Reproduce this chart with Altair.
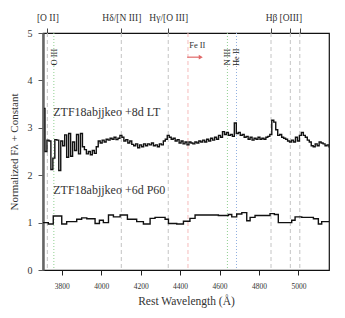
import altair as alt
import pandas as pd

FONT = "Liberation Serif"

# LT spectrum (+8d), 10 A bins, centres from 3710 A
lt_start = 3710
lt_step = 10
lt_flux = [
    3.41, 2.50, 2.74, 2.72, 2.12, 2.36, 2.75, 2.74, 2.10, 2.72,
    2.62, 2.85, 2.38, 2.88, 2.40, 2.70, 2.52, 2.86, 2.45, 2.88,
    2.60, 2.54, 2.45, 2.50, 2.43, 2.52, 2.46, 2.60, 2.72, 2.68,
    2.74, 2.70, 2.76, 2.74, 2.78, 2.76, 2.80, 2.75, 2.78, 2.84,
    2.80, 2.72, 2.75, 2.68, 2.72, 2.65, 2.62, 2.66, 2.58, 2.64,
    2.60, 2.66, 2.62, 2.66, 2.64, 2.68, 2.62, 2.64, 2.60, 2.66,
    2.64, 2.72, 2.76, 2.84, 2.80, 2.76, 2.78, 2.72, 2.75, 2.68,
    2.72, 2.66, 2.70, 2.64, 2.70, 2.68, 2.66, 2.70, 2.68, 2.72,
    2.70, 2.74, 2.70, 2.76, 2.72, 2.78, 2.74, 2.80, 2.76, 2.84,
    2.80, 2.92, 2.86, 2.90, 2.84, 2.86, 2.82, 3.10, 2.88, 2.90,
    2.84, 2.86, 2.80, 2.82, 2.76, 2.80, 2.74, 2.78, 2.76, 2.80,
    2.76, 2.78, 2.76, 2.80, 2.82, 2.86, 3.16, 3.12, 2.96, 2.84,
    2.86, 2.80, 2.78, 2.76, 2.72, 2.70, 2.74, 2.70, 2.80, 2.72,
    2.84, 2.90, 2.84, 2.80, 2.74, 2.70, 2.62, 2.60, 2.66, 2.62,
    2.70, 2.68, 2.66, 2.62, 2.64, 2.60,
]
lt_wave = [lt_start + lt_step * i for i in range(len(lt_flux))]

# P60 spectrum (+6d), bin start wavelengths and flux
p60_wave = [3705, 3732, 3757, 3800, 3825, 3876, 3901, 3927, 3969, 3991,
            4011, 4037, 4062, 4096, 4133, 4180, 4214, 4248, 4273, 4324,
            4341, 4383, 4417, 4450, 4476, 4594, 4645, 4662, 4687, 4713,
            4738, 4755, 4780, 4856, 4878, 4898, 4966, 4983, 5017, 5076,
            5101, 5118, 5155]
p60_flux = [1.00, 0.97, 1.14, 0.97, 1.02, 1.07, 1.10, 1.08, 0.98, 1.05,
            1.00, 1.16, 1.12, 1.16, 1.07, 1.02, 0.97, 1.09, 1.11, 1.07,
            0.98, 0.97, 1.03, 1.09, 1.16, 1.15, 1.17, 1.12, 1.18, 1.21,
            1.04, 1.11, 1.15, 1.19, 1.17, 1.00, 1.05, 1.12, 1.11, 1.08,
            0.97, 1.02, 1.02]

# line markers
gray_lines = [3727, 4102, 4340, 4861, 4959, 5007]
top_labels = ["[O II]", "Hδ/[N III]", "Hγ/[O III]", "Hβ", "[OIII]", ""]
green_lines = [3760, 4640]
blue_lines = [4686]
pink_lines = [4440]

vert_text = ["O III", "N III", "He II"]
vert_text_x = [3760, 4640, 4686]
vert_text_y = [4.49, 4.49, 4.49]

spec_labels = ["ZTF18abjjkeo +8d LT", "ZTF18abjjkeo +6d P60"]
spec_label_x = [3757, 3757]
spec_label_y = [3.33, 1.69]

feii_label = "Fe II"
feii_text_x = 4446
feii_text_y = 4.74
feii_arrow_x = [4436, 4505]
feii_arrow_y = 4.49

X_DOMAIN = [3705, 5155]
xs = alt.Scale(domain=X_DOMAIN, nice=False, zero=False)
ys = alt.Scale(domain=[0, 5], nice=False)

label_expr = " : ".join(
    f"datum.value == {v} ? '{l}'" for v, l in zip(gray_lines, top_labels)
) + " : ''"

gray_df = pd.DataFrame({"w": gray_lines})
gray = alt.Chart(gray_df).mark_rule(color="#c4c4c4", strokeDash=[4, 3], strokeWidth=1).encode(
    x=alt.X("w:Q", scale=xs, axis=alt.Axis(
        orient="top", values=gray_lines, labelExpr=label_expr, title=None,
        grid=False, domain=False, ticks=True, tickSize=5, tickColor="#444",
        labelFont=FONT, labelFontSize=9.5, labelColor="#333", labelPadding=6,
        labelOverlap=False, labelFlush=False)),
)

green = alt.Chart(pd.DataFrame({"w": green_lines})).mark_rule(
    color="#8fd08f", strokeDash=[1, 2], strokeWidth=1).encode(
    x=alt.X("w:Q", scale=xs, axis=None))
blue = alt.Chart(pd.DataFrame({"w": blue_lines})).mark_rule(
    color="#90b0e0", strokeDash=[1, 2], strokeWidth=1).encode(
    x=alt.X("w:Q", scale=xs, axis=None))
pink = alt.Chart(pd.DataFrame({"w": pink_lines})).mark_rule(
    color="#f6bcbc", strokeDash=[4, 3], strokeWidth=1).encode(
    x=alt.X("w:Q", scale=xs, axis=None))

lt_df = pd.DataFrame({"w": lt_wave, "f": lt_flux})
lt = alt.Chart(lt_df).mark_line(interpolate="step", color="#111", strokeWidth=1.4,
                                clip=True).encode(
    x=alt.X("w:Q", scale=xs, axis=None),
    y=alt.Y("f:Q", scale=ys, axis=None),
)

p60_df = pd.DataFrame({"w": p60_wave, "f": p60_flux})
p60 = alt.Chart(p60_df).mark_line(interpolate="step-after", color="#111", strokeWidth=1.4).encode(
    x=alt.X("w:Q", scale=xs, axis=alt.Axis(
        values=[3800, 4000, 4200, 4400, 4600, 4800, 5000], format="d",
        title="Rest Wavelength (Å)", grid=False, domain=False, tickSize=5,
        tickColor="#222", labelFont=FONT, labelFontSize=7.5, labelColor="#333",
        labelPadding=7, titleFont=FONT, titleFontSize=11.5, titleFontWeight="normal",
        titleColor="#333", titlePadding=6, labelFlush=False)),
    y=alt.Y("f:Q", scale=ys, axis=alt.Axis(
        values=[0, 1, 2, 3, 4, 5], title="Normalized Fλ + Constant", grid=False,
        domain=True, domainColor="#666", domainWidth=2.5, tickSize=5,
        tickColor="#555", labelFont=FONT, labelFontSize=10, labelColor="#333",
        labelPadding=6, titleFont=FONT, titleFontSize=11, titleFontWeight="normal",
        titleColor="#333", titlePadding=8)),
)

vt_df = pd.DataFrame({"t": vert_text, "w": vert_text_x, "f": vert_text_y})
vtext = alt.Chart(vt_df).mark_text(angle=270, align="center", baseline="middle",
                                   font=FONT, fontSize=8.5, color="#222").encode(
    x=alt.X("w:Q", scale=xs, axis=None), y=alt.Y("f:Q", scale=ys, axis=None), text="t:N")

sl_df = pd.DataFrame({"t": spec_labels, "w": spec_label_x, "f": spec_label_y})
stext = alt.Chart(sl_df).mark_text(align="left", baseline="middle",
                                   font=FONT, fontSize=12, color="#333").encode(
    x=alt.X("w:Q", scale=xs, axis=None), y=alt.Y("f:Q", scale=ys, axis=None), text="t:N")

fe_df = pd.DataFrame({"t": [feii_label], "w": [feii_text_x], "f": [feii_text_y]})
fetext = alt.Chart(fe_df).mark_text(align="left", baseline="middle",
                                    font=FONT, fontSize=8.5, color="#333").encode(
    x=alt.X("w:Q", scale=xs, axis=None), y=alt.Y("f:Q", scale=ys, axis=None), text="t:N")

arr_df = pd.DataFrame({"w": [feii_arrow_x[0]], "w2": [feii_arrow_x[1]], "f": [feii_arrow_y]})
arrow_shaft = alt.Chart(arr_df).mark_rule(color="#e06868", strokeWidth=1.2).encode(
    x=alt.X("w:Q", scale=xs, axis=None), x2="w2:Q", y=alt.Y("f:Q", scale=ys, axis=None))
head_df = pd.DataFrame({"w": [feii_arrow_x[1]], "f": [feii_arrow_y]})
arrow_head = alt.Chart(head_df).mark_point(shape="triangle-right", filled=True, size=22,
                                           color="#e06868", opacity=1).encode(
    x=alt.X("w:Q", scale=xs, axis=None), y=alt.Y("f:Q", scale=ys, axis=None))

chart = alt.layer(
    gray, green, blue, pink, lt, p60, vtext, stext, fetext, arrow_shaft, arrow_head
).resolve_axis(x="independent", y="independent").properties(
    width=286, height=237,
    autosize=alt.AutoSizeParams(type="none"),
    padding={"left": 35, "top": 25, "right": 8, "bottom": 40},
).configure_view(stroke="#111", strokeWidth=1.2)

chart.save("out.html", embed_options={"renderer": "svg", "actions": False})
